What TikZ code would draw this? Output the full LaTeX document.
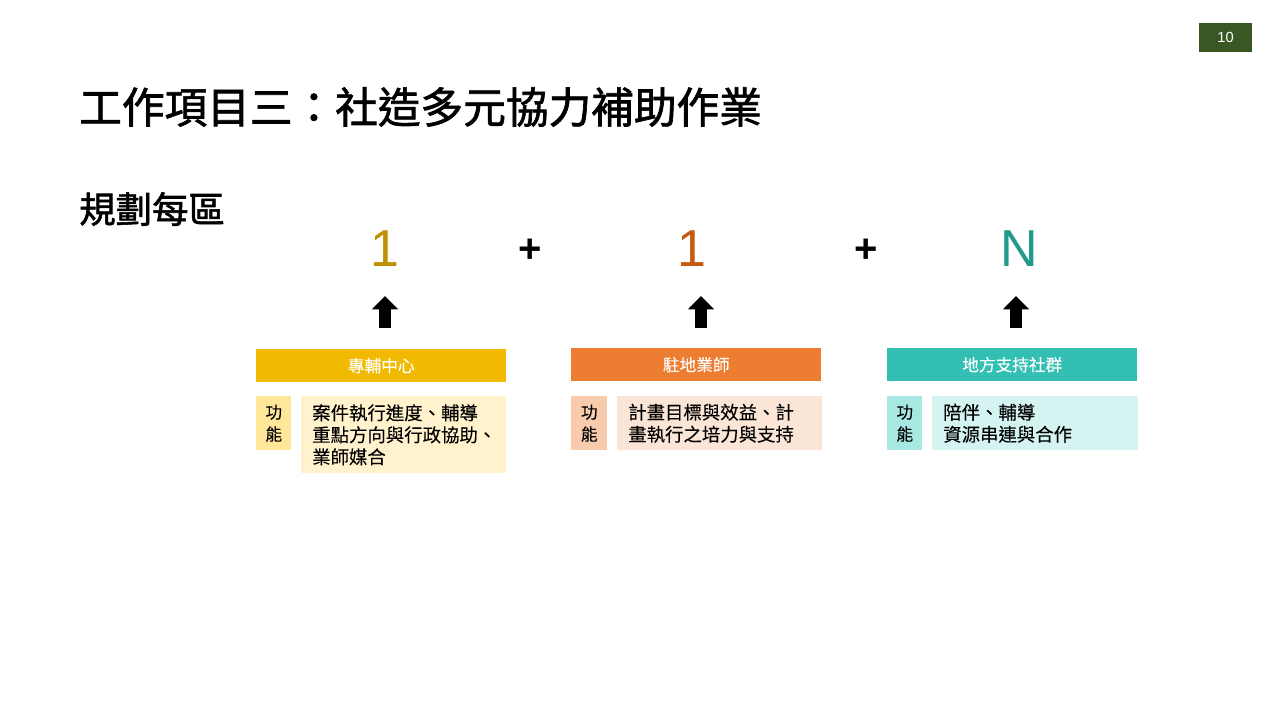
\documentclass[tikz,border=0pt]{standalone}
\usepackage{fontspec}
\setmainfont{Noto Sans CJK TC}
\newfontfamily\cjkm{Noto Sans CJK TC}[FakeBold=0.1]
\newfontfamily\cjkt{Noto Sans CJK TC}[FakeBold=1.6]
\newfontfamily\latinf{Liberation Sans}
\usetikzlibrary{arrows.meta}
\definecolor{pgGreen}{HTML}{385723}
\definecolor{numGold}{HTML}{BF9000}
\definecolor{numOrange}{HTML}{C55A11}
\definecolor{numTeal}{HTML}{219A8C}
\definecolor{hdYellow}{HTML}{F1BA00}
\definecolor{hdOrange}{HTML}{ED7D31}
\definecolor{hdTeal}{HTML}{33BFB3}
\definecolor{smYellow}{HTML}{FFE699}
\definecolor{txYellow}{HTML}{FFF2CC}
\definecolor{smOrange}{HTML}{F8CBAD}
\definecolor{txOrange}{HTML}{FBE5D6}
\definecolor{smTeal}{HTML}{A8E8E2}
\definecolor{txTeal}{HTML}{D4F3F1}
\tikzset{
  hdr/.style={anchor=north west, minimum width=187.5pt, minimum height=24.75pt, inner sep=0pt, text=white, font=\cjkm\fontsize{12.5}{15}\selectfont},
  smbox/.style={anchor=north west, minimum width=26.25pt, minimum height=40.5pt, inner sep=0pt, align=center, font=\cjkm\fontsize{12.5}{16.5}\selectfont},
  txbox/.style={anchor=north west, text width=137.25pt, inner xsep=8.25pt, inner ysep=0pt, align=left, font=\cjkm\fontsize{13.8}{16.5}\selectfont},
  num/.style={font=\latinf\fontsize{39}{40}\selectfont},
  plus/.style={font=\latinf\bfseries\fontsize{30}{32}\selectfont},
  blockarrow/.style={line width=8.5pt, -{Triangle[width=19pt,length=10pt]}},
}
\begin{document}
\begin{tikzpicture}[x=0.75pt,y=-0.75pt]
\useasboundingbox[fill=white] (0,0) rectangle (1280,720);
% page number
\node[fill=pgGreen, minimum width=39.75pt, minimum height=21.75pt, inner sep=0pt, text=white, font=\latinf\fontsize{11}{12}\selectfont] (pg) at (1225.5,37.5) {10};
% title
\node[anchor=west, inner sep=0pt, font=\cjkt\fontsize{32}{34}\selectfont] (title) at (79,107) {工作項目三：社造多元協力補助作業};
\node[anchor=west, inner sep=0pt, font=\cjkt\fontsize{27.3}{30}\selectfont] (sub) at (79,209) {規劃每區};
% numbers
\node[num, text=numGold, inner sep=0pt] (n1) at (385,249) {1};
\node[plus, inner sep=0pt] (p1) at (530,251) {+};
\node[num, text=numOrange, inner sep=0pt] (n2) at (692,249) {1};
\node[plus, inner sep=0pt] (p2) at (866,251) {+};
\node[num, text=numTeal, inner sep=0pt] (n3) at (1019,249) {N};
% arrows
\coordinate (a1s) at (385,328); \coordinate (a1e) at (385,296);
\coordinate (a2s) at (701,328); \coordinate (a2e) at (701,296);
\coordinate (a3s) at (1016,328); \coordinate (a3e) at (1016,296);
\draw[blockarrow] (a1s) -- (a1e);
\draw[blockarrow] (a2s) -- (a2e);
\draw[blockarrow] (a3s) -- (a3e);
% headers
\node[hdr, fill=hdYellow] (h1) at (256,349) {專輔中心};
\node[hdr, fill=hdOrange] (h2) at (571,348) {駐地業師};
\node[hdr, fill=hdTeal] (h3) at (887,348) {地方支持社群};
% function boxes
\node[smbox, fill=smYellow] (f1) at (256,396) {功\\能};
\node[txbox, fill=txYellow, minimum height=57.75pt] (t1) at (301,396) {案件執行進度、輔導\\重點方向與行政協助、\\業師媒合};
\node[smbox, fill=smOrange, minimum width=27pt] (f2) at (571,396) {功\\能};
\node[txbox, fill=txOrange, minimum height=40.5pt] (t2) at (617,396) {計畫目標與效益、計\\畫執行之培力與支持};
\node[smbox, fill=smTeal] (f3) at (887,396) {功\\能};
\node[txbox, fill=txTeal, minimum height=40.5pt, text width=138pt] (t3) at (932,396) {陪伴、輔導\\資源串連與合作};
\end{tikzpicture}
\end{document}
